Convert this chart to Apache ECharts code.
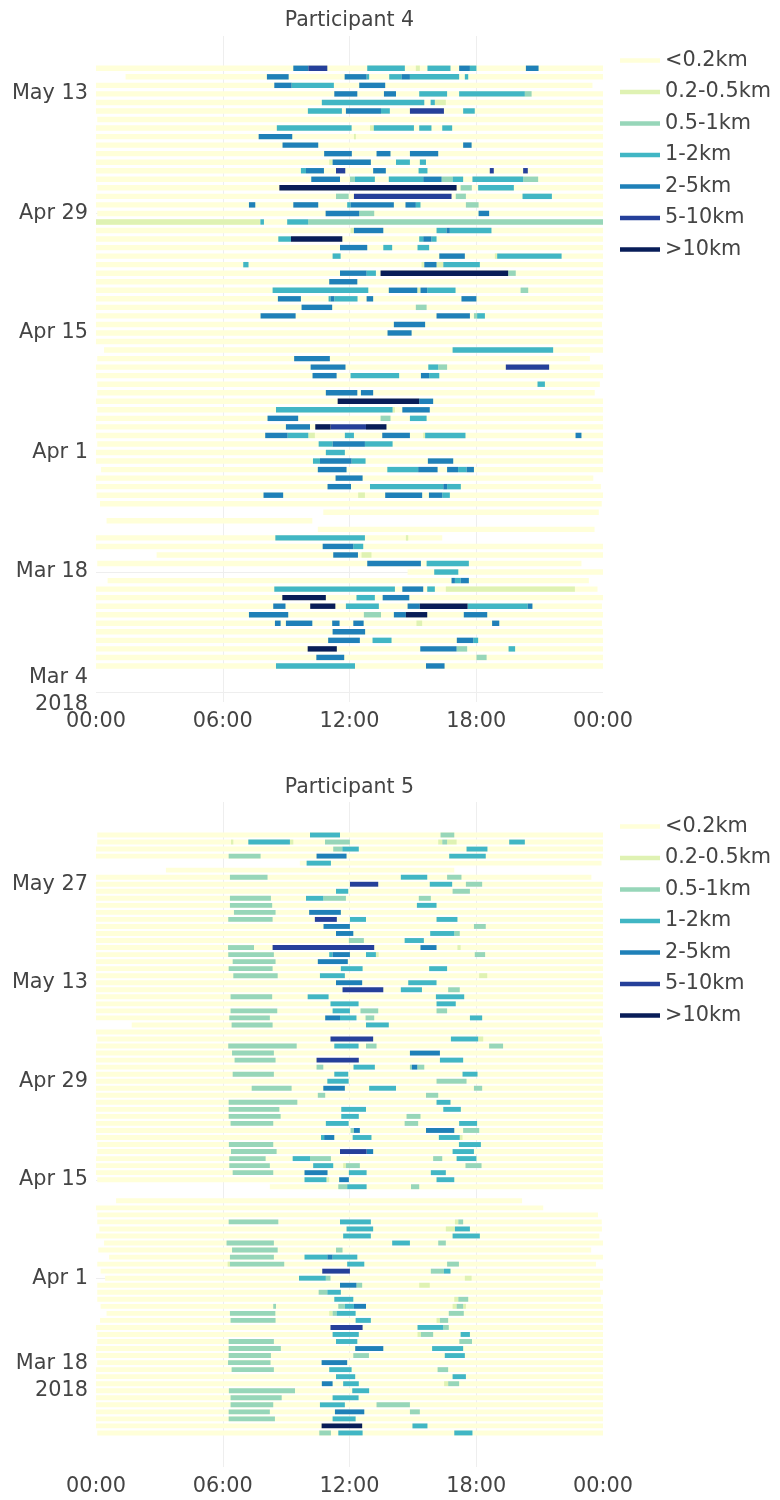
<!DOCTYPE html>
<html><head><meta charset="utf-8">
<script src="https://cdn.jsdelivr.net/npm/echarts@6/dist/echarts.min.js"></script>
<style>html,body{margin:0;padding:0;background:#fff}#c{width:780px;height:1500px}</style>
</head><body><div id="c"></div>
<script>
const categories = ['<0.2km','0.2-0.5km','0.5-1km','1-2km','2-5km','5-10km','>10km'];
const colors = ['#ffffd9','#dff2b3','#97d6b9','#41b6c4','#1f80b8','#25409a','#081d58'];
const timeTicks = [0,6,12,18,24];
const titles = ['Participant 4','Participant 5'];

// Participant 4: day offsets from 2018-03-04
const p4StartDate = [2018,2,4];
const p4DateTicks = [0,14,28,42,56,70];
const p4Base = [[73,0,24],[72,1.4,24],[71,0,23.5],[70,0,24],[69,0,24],[68,0,24],[67,0.06,24],[66,0,24],[65,0,24],[64,0,24],[63,0,24],[62,0,24],[61,0,24],[60,0,24],[59,0.06,24],[58,0,24],[57,0,24],[56,0.06,24],[55,0,24],[54,0,24],[53,0,24],[52,0,24],[51,0,24],[50,0,24],[49,0,24],[48,0,24],[47,0,24],[46,0,24],[45,0,24],[44,0,24],[43,0,23.95],[42,0,24],[41,0,24],[40,0.38,24],[39,0.06,23.38],[38,0,24],[37,0,24],[36,0.06,23.85],[35,0.06,23.61],[34,0,24],[33,0.06,24],[32,0,24],[31,0,24],[30,0,24],[29,0.06,24],[28,0,24],[27,0,24],[26,0.24,24],[25,0,23.54],[24,0,23.9],[23,0.03,24],[22,0.19,23.94],[21,10.76,23.8],[20,0.5,10.24],[19,10.5,23.6],[18,0,16.39],[17,0,24],[16,2.87,24],[15,0.06,22.98],[14,14.75,24],[13,0.55,23.33],[12,0,23.74],[11,0,24],[10,0,23.95],[9,0,24],[8,0,23.95],[7,0,24],[6,0,24],[5,0,24],[4,0,24],[3,0,24]];
const p4Trips = [
[73,9.34,10.05,4],[73,10.05,10.95,5],[73,12.84,14.62,3],[73,15.14,15.33,1],[73,15.69,16.78,3],[73,17.19,17.7,4],[73,17.7,18.01,3],[73,20.35,20.95,4],
[72,8.09,9.12,4],[72,11.77,12.81,4],[72,12.81,12.93,3],[72,13.88,14.46,3],[72,14.46,14.86,4],[72,14.86,17.19,3],[72,17.46,17.62,3],
[71,8.44,9.26,4],[71,9.26,11.26,3],[71,12.46,13.69,4],
[70,11.28,12.37,4],[70,13.63,14.2,4],[70,15.3,16.62,3],[70,17.19,20.3,3],[70,20.3,20.62,2],
[69,10.69,15.54,3],[69,15.84,16.04,3],[69,16.04,16.56,1],
[68,10.03,11.64,3],[68,11.83,13.49,4],[68,13.49,13.91,3],[68,14.86,16.47,5],[68,17.38,17.93,3],
[66,8.56,12.1,3],[66,12.97,13.15,1],[66,13.15,15.05,3],[66,15.3,15.88,3],[66,16.39,16.86,3],
[65,7.7,9.29,4],[65,12.21,12.3,1],
[64,8.83,10.52,4],[64,17.38,17.78,4],
[63,10.8,12.11,4],[63,13.28,13.94,4],[63,14.86,16.2,4],
[62,11.04,11.2,1],[62,11.2,13.01,4],[62,14.2,14.86,3],[62,15.33,15.62,3],
[61,9.7,9.94,3],[61,9.94,10.79,4],[61,11.36,11.8,5],[61,13.12,13.72,4],[61,15.27,15.69,3],[61,18.64,18.83,5],[61,20.22,20.44,5],
[60,10.19,11.55,4],[60,12.02,12.26,2],[60,12.26,13.2,3],[60,13.86,15.49,3],[60,15.49,16.36,4],[60,16.36,16.88,2],[60,16.88,17.38,3],[60,17.82,20.22,3],[60,20.22,20.93,2],
[59,8.68,17.07,6],[59,17.26,17.79,2],[59,18.09,19.78,3],
[58,11.36,11.96,2],[58,12.21,16.83,5],[58,17.03,17.51,2],[58,20.19,21.58,3],
[57,7.24,7.54,4],[57,9.34,10.52,4],[57,11.89,12.05,3],[57,12.05,14.1,4],[57,14.65,15.14,4],[57,15.14,15.36,3],[57,17.51,18.11,2],
[56,10.87,12.46,4],[56,12.46,13.17,2],[56,18.11,18.61,4],
[55,0,7.76,1],[55,7.78,7.95,3],[55,9.05,10.05,3],[55,10.05,24,2],
[54,12.05,12.21,1],[54,12.21,13.6,4],[54,16.12,16.59,3],[54,16.59,16.75,4],[54,16.75,18.72,3],
[53,8.63,9.23,3],[53,9.23,11.66,6],[53,15.3,15.49,3],[53,15.49,15.88,4],[53,15.88,16.12,3],
[52,11.55,12.84,4],[52,13.6,14.02,3],[52,15.22,15.77,3],
[51,11.2,11.58,3],[51,16.25,17.46,4],[51,18.88,18.99,1],[51,18.99,22.04,3],
[50,6.97,7.22,3],[50,15.41,15.54,1],[50,15.54,16.12,4],[50,16.12,16.44,1],[50,16.44,18.17,3],
[49,11.55,12.81,4],[49,12.81,13.25,3],[49,13.47,19.51,6],[49,19.51,19.87,2],
[48,11.04,12.37,4],
[47,8.36,12.89,3],[47,13.86,15.21,4],[47,15.21,15.36,1],[47,15.36,15.68,4],[47,15.68,17.02,3],[47,20.1,20.46,2],
[46,8.61,9.7,4],[46,11.01,11.1,3],[46,11.1,11.28,4],[46,11.28,12.38,3],[46,12.81,13.12,4],[46,17.3,18.01,4],
[45,9.73,11.18,4],[45,15.14,15.65,2],
[44,7.79,9.45,4],[44,16.12,17.7,4],[44,17.89,18.04,2],[44,18.04,18.41,3],
[43,14.1,15.58,4],
[42,13.8,14.94,4],
[40,16.88,21.64,3],
[39,9.38,11.07,4],
[38,10.16,11.81,4],[38,15.73,16.2,3],[38,16.2,16.62,2],[38,19.4,21.45,5],
[37,10.25,11.39,4],[37,12.05,14.35,3],[37,15.38,15.77,4],[37,15.77,16.25,3],
[36,20.9,21.25,3],
[35,10.88,12.37,4],[35,12.54,13.12,4],
[34,11.44,15.3,6],[34,15.3,15.96,4],
[33,8.52,14.04,3],[33,14.04,14.15,1],[33,14.5,15.8,4],
[32,8.12,9.57,4],[32,13.47,13.94,2],[32,14.86,15.65,3],
[31,8.99,10.13,4],[31,10.38,11.1,6],[31,11.1,12.78,5],[31,12.78,13.75,6],
[30,8.01,9.07,4],[30,9.07,10.05,3],[30,10.05,10.36,1],[30,11.78,12.21,3],[30,13.55,14.86,4],[30,15.49,15.58,1],[30,15.58,17.49,3],[30,22.7,22.98,4],
[29,10.54,11.2,3],[29,11.2,12.73,4],[29,12.73,14.04,3],
[28,10.88,11.78,3],
[27,10.27,10.6,3],[27,10.6,12.1,4],[27,12.1,12.76,3],[27,15.71,16.91,4],
[26,10.5,11.86,4],[26,13.79,15.25,3],[26,15.25,16.17,4],[26,16.62,17.14,4],[26,17.14,17.54,3],[26,17.54,17.89,4],
[25,11.34,12.62,4],
[24,10.96,12.07,4],[24,12.97,16.44,3],[24,16.44,16.62,4],[24,16.62,17.27,3],
[23,7.93,8.86,4],[23,12.41,12.73,1],[23,13.69,15.44,4],[23,15.76,16.39,4],[23,16.39,16.75,3],
[18,8.49,12.73,3],[18,14.67,14.78,1],
[17,10.73,12.18,4],[17,12.18,12.65,3],
[16,11.23,12.4,4],[16,12.57,13.04,1],
[15,12.84,15.38,4],[15,15.65,17.65,3],
[14,16.01,17.15,3],
[13,16.83,16.99,4],[13,16.99,17.26,3],[13,17.26,17.65,4],
[12,8.44,14.15,3],[12,14.5,15.49,4],[12,15.68,16.04,3],[12,16.56,22.67,1],
[11,8.82,10.88,6],[11,12.33,13.2,3],[11,13.57,14.83,4],
[10,8.39,8.97,4],[10,10.14,11.33,6],[10,11.83,13.39,3],[10,14.75,15.33,4],[10,15.33,17.59,6],[10,17.59,20.43,3],[10,20.43,20.66,4],
[9,7.24,9.1,4],[9,12.68,13.49,2],[9,14.1,14.67,4],[9,14.67,15.68,6],[9,17.41,18.52,4],
[8,8.47,8.74,4],[8,8.99,10.24,4],[8,11.18,11.53,4],[8,12.18,12.67,4],[8,15.17,15.44,1],[8,18.75,19.09,4],
[7,11.2,12.74,4],
[6,10.99,12.49,4],[6,13.09,13.99,3],[6,17.08,17.86,4],[6,17.86,18.09,3],
[5,10.02,11.4,6],[5,15.35,17.07,4],[5,17.07,17.57,2],[5,19.53,19.84,3],
[4,10.43,11.75,4],[4,18.01,18.49,2],
[3,8.52,12.26,3],[3,15.62,16.5,4]];

// Participant 5: day offsets from 2018-03-18
const p5StartDate = [2018,2,18];
const p5DateTicks = [0,14,28,42,56,70];
const p5Base = [[77,0.06,24],[76,0.06,24],[75,0,24],[74,0,24],[73,9.65,23.93],[72,3.31,16.96],[71,0,23.45],[70,0,24],[69,0,23.95],[68,0,23.95],[67,0,24],[66,0,24],[65,0,24],[64,0,24],[63,0,24],[62,0,24],[61,0,24],[60,0,24],[59,0,24],[58,0,24],[57,0,24],[56,0,24],[55,0,24],[54,0,24],[53,0,24],[52,0,24],[51,0,24],[50,1.69,24],[49,0,23.85],[48,0.06,23.95],[47,0,24],[46,0,24],[45,0,24],[44,0,24],[43,0,24],[42,0,24],[41,0,24],[40,0,24],[39,0,24],[38,0,24],[37,0,24],[36,0,24],[35,0,24],[34,0,23.95],[33,0.06,24],[32,0.06,24],[31,0,24],[30,0,24],[29,0,24],[28,0.06,24],[27,8.23,24],[25,0.95,20.17],[24,0,21.17],[23,0.06,23.76],[22,0.06,23.94],[21,0.16,23.95],[20,0,23.83],[19,0.38,24],[18,0.11,23.44],[17,0.62,24],[16,0.06,23.67],[15,0.22,24],[14,0.43,24],[13,0.06,23.86],[12,0.06,24],[11,0.06,23.9],[10,0.22,24],[9,0.5,24],[8,0.19,24],[7,0,24],[6,0.06,24],[5,0.06,24],[4,0,24],[3,0,24],[2,0.06,24],[1,0,24],[0,0,24],[-1,0,24],[-2,0,24],[-3,0,24],[-4,0,24],[-5,0,24],[-6,0,24],[-7,0,24],[-8,0.06,24]];
const p5Trips = [
[77,10.13,11.55,3],[77,16.31,16.96,2],
[76,6.39,6.5,1],[76,7.21,9.18,3],[76,9.18,9.34,1],[76,10.84,12.02,2],[76,16.2,16.39,1],[76,16.39,16.62,2],[76,16.62,17.07,1],[76,19.56,20.3,3],
[75,11.23,11.66,2],[75,11.66,12.44,3],[75,17.54,18.53,3],
[74,6.28,7.79,2],[74,10.44,11.86,4],[74,16.72,18.45,3],
[73,9.97,11.12,3],
[71,6.34,8.12,2],[71,14.43,15.68,3],[71,16.62,17.3,2],
[70,12.02,13.36,5],[70,15.8,16.86,3],[70,17.51,18.28,2],
[69,11.36,11.94,3],[69,16.88,17.7,2],
[68,6.34,8.28,2],[68,9.94,10.76,3],[68,10.76,11.83,2],[68,15.28,15.85,2],
[67,6.34,8.34,2],[67,15.19,16.12,3],
[66,6.53,8.5,2],[66,10.09,11.59,4],
[65,6.26,8.36,2],[65,10.36,11.4,5],[65,12.02,12.78,3],[65,16.12,17.11,3],
[64,10.77,12.02,4],[64,17.89,18.45,2],
[63,11.36,12.18,4],[63,15.82,16.96,3],[63,16.96,17.22,2],
[62,11.97,12.68,2],[62,14.61,15.52,3],
[61,6.25,7.48,2],[61,8.36,13.17,5],[61,15.36,16.12,4],[61,17.11,17.26,1],
[60,6.26,8.42,2],[60,11.04,11.2,3],[60,11.2,12.02,4],[60,12.78,13.25,3],[60,13.25,13.38,1],[60,17.93,18.42,2],
[59,6.47,8.5,2],[59,10.5,11.92,4],
[58,6.28,8.36,2],[58,11.59,12.62,3],[58,15.77,16.62,3],
[57,6.5,8.6,2],[57,10.6,11.78,3],[57,18.14,18.52,1],
[56,11.36,12.6,4],[56,14.78,16.12,3],
[55,11.67,13.6,5],[55,14.43,15.43,3],[55,16.67,17.22,2],
[54,6.37,8.34,2],[54,10.02,11.01,3],[54,16.09,17.43,3],
[53,11.1,12.43,3],[53,16.12,17.03,3],
[52,6.37,8.58,2],[52,11.2,12.02,3],[52,12.52,13.36,2],[52,16.12,16.62,2],
[51,6.31,8.23,2],[51,10.85,11.55,4],[51,11.55,12.33,3],[51,12.76,13.17,2],[51,17.7,18.28,3],
[50,6.42,8.36,2],[50,12.78,13.86,3],
[48,11.1,13.12,5],[48,16.8,18.09,3],[48,18.09,18.33,1],
[47,6.26,9.5,2],[47,11.28,12.43,3],[47,12.78,13.28,2],[47,18.61,19.27,2],
[46,6.44,8.42,2],[46,14.86,16.28,4],
[45,6.56,8.5,2],[45,10.44,12.44,5],[45,16.28,17.38,3],
[44,10.44,10.76,2],[44,12.19,13.2,3],[44,14.86,14.95,2],[44,14.95,15.21,4],[44,15.21,15.54,2],
[43,6.47,8.42,2],[43,11.28,11.94,3],[43,17.35,18.06,3],
[42,10.95,11.96,3],[42,16.12,17.54,2],
[41,7.37,9.26,2],[41,10.76,11.78,4],[41,12.93,14.2,3],[41,17.89,18.28,2],
[40,10.5,10.85,2],[40,15.62,16.2,2],
[39,6.28,9.53,2],[39,16.12,16.78,3],
[38,6.28,8.68,2],[38,11.61,12.78,3],[38,16.44,17.27,3],
[37,6.28,8.74,2],[37,11.61,12.44,3],[37,14.7,15.36,2],
[36,6.37,8.39,2],[36,10.88,11.96,3],[36,14.61,15.25,2],[36,17.19,18.04,3],
[35,12.05,12.21,2],[35,12.21,12.49,4],[35,15.62,16.96,4],[35,17.38,18.14,2],
[34,10.65,10.8,3],[34,10.8,11.28,4],[34,12.15,13.04,3],[34,16.23,17.22,3],[34,17.22,17.35,1],
[33,6.29,8.39,2],[33,17.18,18.22,3],
[32,6.39,8.55,2],[32,11.55,12.81,5],[32,12.81,13.12,4],[32,16.88,17.89,3],
[31,6.31,8.03,2],[31,9.31,10.13,3],[31,10.13,11.12,2],[31,15.96,16.39,2],[31,17.07,18.01,3],
[30,6.31,8.23,2],[30,10.28,11.23,3],[30,11.7,11.83,1],[30,11.83,12.49,2],[30,17.49,18.25,2],
[29,6.47,8.39,2],[29,9.87,10.96,4],[29,11.97,12.81,3],[29,15.85,16.56,3],
[28,9.87,10.91,3],[28,10.91,11.04,1],[28,11.51,11.97,4],[28,16.12,16.96,3],
[27,11.47,11.89,2],[27,11.89,12.81,3],[27,14.91,15.3,2],
[22,6.28,8.63,2],[22,11.55,13.01,3],[22,16.99,17.15,1],[22,17.15,17.38,2],
[21,11.86,13.12,3],[21,16.56,16.99,1],[21,16.99,17.7,3],
[20,11.7,13.01,3],[20,16.88,18.17,3],
[19,6.18,8.42,2],[19,14.02,14.86,3],[19,16.2,16.56,2],
[18,6.44,8.6,2],[18,11.36,11.67,2],
[17,6.34,8.42,2],[17,9.87,10.95,3],[17,10.95,11.2,4],[17,11.2,12.37,3],
[16,6.23,6.34,1],[16,6.34,8.91,2],[16,11.89,12.7,3],[16,16.62,17.18,2],
[15,10.71,12.02,5],[15,15.85,16.47,2],[15,16.47,16.78,3],
[14,9.61,10.88,3],[14,10.88,11.1,2],[14,17.46,17.78,1],
[13,11.55,12.33,4],[13,12.33,12.6,2],[13,15.3,15.8,1],
[12,10.54,10.95,2],[12,10.95,11.59,3],
[11,11.28,12.18,3],[11,16.96,17.15,1],[11,17.15,17.62,2],
[10,8.39,8.52,2],[10,11.47,11.78,2],[10,11.78,12.21,3],[10,12.21,12.78,4],[10,16.88,17.07,1],[10,17.07,17.38,2],[10,17.38,17.51,1],
[9,6.34,8.49,2],[9,11.04,11.2,1],[9,11.2,11.39,2],[9,11.39,12.29,3],[9,16.7,17.41,2],
[8,6.37,8.5,2],[8,12.29,13.01,3],[8,16.12,16.28,1],[8,16.28,16.67,2],
[7,11.1,12.62,5],[7,15.22,16.44,3],[7,16.44,16.7,2],
[6,11.2,12.44,3],[6,15.22,15.38,1],[6,15.38,15.96,2],[6,17.26,17.7,3],
[5,6.28,8.42,2],[5,11.36,12.37,3],[5,17.2,17.8,2],
[4,6.28,8.75,2],[4,12.27,13.6,4],[4,15.91,17.38,3],
[3,6.28,8.28,2],[3,12.18,12.92,2],[3,16.51,17.46,3],
[2,6.25,8.26,2],[2,10.68,11.89,4],
[1,6.42,8.42,2],[1,11.04,12.1,3],[1,16.17,16.67,2],
[0,11.36,12.27,3],[0,16.88,17.51,3],
[-1,10.69,11.2,4],[-1,11.7,12.44,3],[-1,16.48,16.67,1],[-1,16.67,17.19,2],
[-2,6.29,9.42,2],[-2,12.13,12.93,3],
[-3,6.37,8.79,2],[-3,11.2,12.43,3],
[-4,6.37,8.39,2],[-4,10.6,11.78,3],[-4,13.28,14.86,2],
[-5,6.28,8.23,2],[-5,11.31,12.7,4],[-5,14.86,15.33,2],
[-6,6.28,8.47,2],[-6,11.2,12.29,3],
[-7,10.68,12.6,6],[-7,14.98,15.69,3],
[-8,10.57,11.12,2],[-8,11.47,12.62,3],[-8,16.96,17.82,3]];

const FONT = 'DejaVu Sans';
const TXT = '#444';
const MONTHS = ['Jan','Feb','Mar','Apr','May','Jun','Jul','Aug','Sep','Oct','Nov','Dec'];
function dateLabel(start, d, first) {
  const dt = new Date(Date.UTC(start[0], start[1], start[2]) + d * 86400000);
  let s = MONTHS[dt.getUTCMonth()] + ' ' + dt.getUTCDate();
  if (first) s += '\n' + dt.getUTCFullYear();
  return s;
}
function timeLabel(v) { const h = v % 24; return (h < 10 ? '0' : '') + h + ':00'; }

function makeRender(h) {
  return function (params, api) {
    const day = api.value(0), s = api.value(1), e = api.value(2);
    const p1 = api.coord([s, day]), p2 = api.coord([e, day]);
    const cs = params.coordSys;
    const rect = echarts.graphic.clipRectByRect(
      { x: p1[0], y: p1[1] - h / 2, width: p2[0] - p1[0], height: h },
      { x: cs.x, y: cs.y, width: cs.width, height: cs.height });
    return rect && { type: 'rect', shape: rect, style: { fill: api.visual('color') } };
  };
}
function gridRender(params, api) {
  const y = Math.round(api.coord([0, api.value(1)])[1]) + 0.5;
  const cs = params.coordSys;
  return { type: 'line', shape: { x1: cs.x, y1: y, x2: cs.x + cs.width, y2: y }, style: { stroke: '#eeeeee', lineWidth: 1 } };
}

const panels = [
  { base: p4Base, trips: p4Trips, start: p4StartDate, ticks: p4DateTicks, min: -1.22, max: 76.78, top: 36, height: 666, h: 5.4, legendTop: 48.5, titleY: 20.5 },
  { base: p5Base, trips: p5Trips, start: p5StartDate, ticks: p5DateTicks, min: -12.84, max: 81.69, top: 802, height: 665, h: 4.9, legendTop: 814.5, titleY: 787.5 }
];

const option = {
  animation: false,
  grid: panels.map(p => ({ left: 96, right: 177, top: p.top, height: p.height })),
  xAxis: panels.map((p, i) => ({
    type: 'value', gridIndex: i, min: 0, max: 24, interval: 6,
    axisLine: { show: false }, axisTick: { show: false },
    splitLine: { show: true, showMinLine: false, showMaxLine: false, lineStyle: { color: '#eeeeee', width: 1 } },
    axisLabel: { formatter: timeLabel, fontFamily: FONT, fontSize: 20.8, color: TXT, margin: 9.5, showMinLabel: true, showMaxLabel: true }
  })),
  yAxis: panels.map((p, i) => ({
    type: 'value', gridIndex: i, min: p.min, max: p.max,
    axisLine: { show: false }, axisTick: { show: false }, splitLine: { show: false },
    axisLabel: {
      customValues: p.ticks,
      formatter: v => dateLabel(p.start, v, v === p.ticks[0]),
      fontFamily: FONT, fontSize: 20.8, color: TXT, margin: 8, lineHeight: 27, align: 'right'
    }
  })),
  legend: panels.map(p => ({
    orient: 'vertical', left: 620, top: p.legendTop, itemWidth: 40, itemHeight: 4.5, itemGap: 7.5,
    icon: 'rect', selectedMode: false, padding: 0,
    textStyle: { fontFamily: FONT, fontSize: 20.8, color: TXT, lineHeight: 24 },
    data: categories.map((n, k) => ({ name: n, itemStyle: { color: colors[k] } }))
  })),
  graphic: panels.map((p, i) => ({
    type: 'text', x: 349.5, y: p.titleY,
    style: { text: titles[i], align: 'center', verticalAlign: 'middle', font: '20.5px "DejaVu Sans"', fill: TXT }
  })),
  series: []
};

panels.forEach((p, i) => {
  option.series.push({
    type: 'custom', name: 'grid' + i, xAxisIndex: i, yAxisIndex: i, silent: true, z: 1,
    encode: { x: 0, y: 1 }, renderItem: gridRender, data: p.ticks.map(d => [0, d])
  });
  categories.forEach((name, k) => {
    const data = k === 0 ? p.base.map(r => [r[0], r[1], r[2]])
      : p.trips.filter(t => t[3] === k).map(t => [t[0], t[1], t[2]]);
    option.series.push({
      type: 'custom', name, xAxisIndex: i, yAxisIndex: i, z: 2 + k, silent: true,
      itemStyle: { color: colors[k] }, encode: { x: [1, 2], y: 0 },
      renderItem: makeRender(p.h), data
    });
  });
});

const chart = echarts.init(document.getElementById('c'), null, { renderer: 'canvas' });
chart.setOption(option);
</script></body></html>
